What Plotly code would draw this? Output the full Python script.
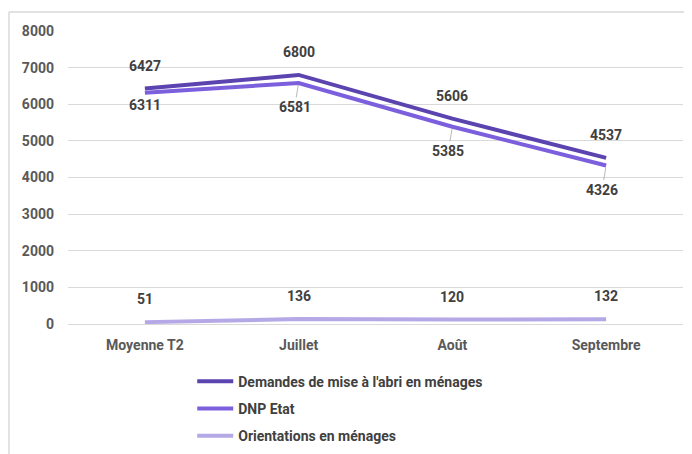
import plotly.graph_objects as go

categories = ['Moyenne T2', 'Juillet', 'Août', 'Septembre']
demandes = [6427, 6800, 5606, 4537]
dnp_etat = [6311, 6581, 5385, 4326]
orientations = [51, 136, 120, 132]

series = [
    ("Demandes de mise à l'abri en ménages", demandes, '#5B43B0'),
    ('DNP Etat', dnp_etat, '#7C5FDC'),
    ('Orientations en ménages', orientations, '#B5A8E6'),
]

FONT = 'Roboto'
LABEL_FONT = dict(size=14, color='#404040', family=FONT, weight='bold')

fig = go.Figure()
for i, (name, vals, col) in enumerate(series):
    fig.add_trace(go.Scatter(x=categories, y=vals, mode='lines', name=name,
                             line=dict(color=col, width=4), legendgroup=str(i)))

# data labels
for x, v in zip(categories, demandes):
    fig.add_annotation(x=x, y=v, text=str(v), showarrow=False, yshift=23, font=LABEL_FONT)
for i, (x, v) in enumerate(zip(categories, dnp_etat)):
    leader = i > 0
    fig.add_annotation(x=x, y=v, text=str(v), showarrow=leader, arrowhead=0,
                       arrowwidth=0.8, arrowcolor='#a6a6a6', ax=-4 if leader else 0, ay=24,
                       standoff=2, yshift=0 if leader else -12, font=LABEL_FONT)
for x, v in zip(categories, orientations):
    fig.add_annotation(x=x, y=v, text=str(v), showarrow=False, yshift=23, font=LABEL_FONT)

# chart frame (top and left edges only)
fig.add_shape(type='line', xref='paper', yref='paper', x0=-0.096, x1=1.03, y0=1.065, y1=1.065,
              line=dict(color='#d9d9d9', width=1.5))
fig.add_shape(type='line', xref='paper', yref='paper', x0=-0.096, x1=-0.096, y0=-0.5, y1=1.065,
              line=dict(color='#d9d9d9', width=1.5))

# page body adds ~8px offset, so the figure is sized to compensate
fig.update_layout(
    width=684, height=446,
    margin=dict(l=60, r=9, t=23, b=130, autoexpand=False),
    plot_bgcolor='white', paper_bgcolor='white',
    font=dict(family=FONT, color='#595959', size=14),
    showlegend=True,
    legend=dict(orientation='v', x=0.202, y=0.198, yref='container', xanchor='left', yanchor='top',
                tracegroupgap=6, itemwidth=36, font=LABEL_FONT),
    xaxis=dict(range=[-0.5, 3.5], showgrid=False, showline=False, ticks='',
               tickfont=dict(size=14, color='#595959', weight='bold'), ticklabelstandoff=11),
    yaxis=dict(range=[0, 8000], dtick=1000, showgrid=True, gridcolor='#d9d9d9', gridwidth=1,
               zeroline=True, zerolinecolor='#d9d9d9', zerolinewidth=1, showline=False,
               tickfont=dict(size=14, color='#595959', weight='bold'), ticklabelstandoff=13),
)

fig.write_html('out.html')
